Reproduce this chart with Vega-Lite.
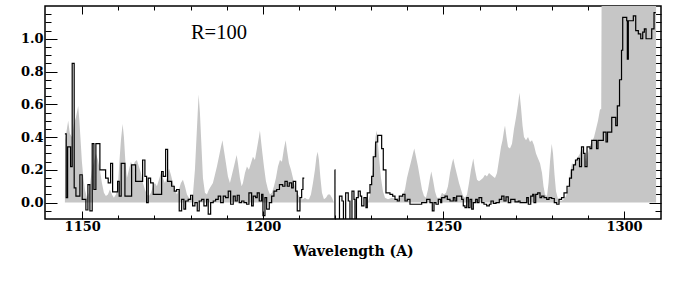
{
  "$schema": "https://vega.github.io/schema/vega-lite/v6.json",
  "width": 616,
  "height": 213,
  "autosize": {"type": "none"},
  "padding": {"left": 45, "top": 6, "right": 31, "bottom": 68},
  "background": "white",
  "config": {
    "view": {"stroke": "black", "strokeWidth": 1.5},
    "axis": {
      "domain": false,
      "grid": false,
      "ticks": true,
      "tickColor": "black",
      "tickWidth": 1,
      "labelFont": "DejaVu Serif",
      "labelFontWeight": "bold",
      "labelFontSize": 13,
      "labelColor": "black",
      "titleFont": "DejaVu Serif",
      "titleFontWeight": "bold",
      "titleFontSize": 14,
      "titleColor": "black"
    }
  },
  "datasets": {
    "grey": [
      {"wl": 1145.21, "flux": 0}, {"wl": 1145.29, "flux": 0.38}, {"wl": 1145.76, "flux": 0.45}, {"wl": 1146.12, "flux": 0.50},
      {"wl": 1146.59, "flux": 0.42}, {"wl": 1147.15, "flux": 0.40}, {"wl": 1147.70, "flux": 0.48}, {"wl": 1148.26, "flux": 0.52},
      {"wl": 1148.89, "flux": 0.59}, {"wl": 1149.22, "flux": 0.50}, {"wl": 1149.64, "flux": 0.35}, {"wl": 1149.92, "flux": 0.25},
      {"wl": 1150.33, "flux": 0.15}, {"wl": 1150.75, "flux": 0.08}, {"wl": 1151.30, "flux": 0.03}, {"wl": 1151.86, "flux": 0.06},
      {"wl": 1152.27, "flux": 0.13}, {"wl": 1152.69, "flux": 0.20}, {"wl": 1153.24, "flux": 0.25}, {"wl": 1153.79, "flux": 0.30},
      {"wl": 1154.35, "flux": 0.26}, {"wl": 1154.90, "flux": 0.20}, {"wl": 1155.46, "flux": 0.12}, {"wl": 1156.01, "flux": 0.06},
      {"wl": 1156.56, "flux": 0.04}, {"wl": 1157.12, "flux": 0.05}, {"wl": 1157.67, "flux": 0.08}, {"wl": 1158.22, "flux": 0.05},
      {"wl": 1158.78, "flux": 0.03}, {"wl": 1159.33, "flux": 0.05}, {"wl": 1159.89, "flux": 0.10}, {"wl": 1160.30, "flux": 0.25},
      {"wl": 1160.72, "flux": 0.38}, {"wl": 1161.19, "flux": 0.48}, {"wl": 1161.55, "flux": 0.40}, {"wl": 1161.96, "flux": 0.25},
      {"wl": 1162.38, "flux": 0.15}, {"wl": 1162.93, "flux": 0.20}, {"wl": 1163.49, "flux": 0.25}, {"wl": 1164.04, "flux": 0.22},
      {"wl": 1164.59, "flux": 0.25}, {"wl": 1165.15, "flux": 0.26}, {"wl": 1165.70, "flux": 0.22}, {"wl": 1166.26, "flux": 0.18},
      {"wl": 1166.81, "flux": 0.12}, {"wl": 1167.36, "flux": 0.08}, {"wl": 1167.92, "flux": 0.05}, {"wl": 1168.47, "flux": 0.04},
      {"wl": 1169.03, "flux": 0.06}, {"wl": 1169.58, "flux": 0.10}, {"wl": 1170.13, "flux": 0.12}, {"wl": 1170.69, "flux": 0.10},
      {"wl": 1171.24, "flux": 0.14}, {"wl": 1171.79, "flux": 0.18}, {"wl": 1172.35, "flux": 0.15}, {"wl": 1172.90, "flux": 0.12},
      {"wl": 1173.46, "flux": 0.15}, {"wl": 1174.01, "flux": 0.21}, {"wl": 1174.56, "flux": 0.17}, {"wl": 1175.12, "flux": 0.12},
      {"wl": 1175.67, "flux": 0.08}, {"wl": 1176.23, "flux": 0.05}, {"wl": 1176.78, "flux": 0.08}, {"wl": 1177.33, "flux": 0.12},
      {"wl": 1177.89, "flux": 0.14}, {"wl": 1178.44, "flux": 0.10}, {"wl": 1179.00, "flux": 0.05}, {"wl": 1179.55, "flux": 0.03},
      {"wl": 1180.10, "flux": 0.02}, {"wl": 1180.66, "flux": 0.05}, {"wl": 1181.21, "flux": 0.20}, {"wl": 1181.76, "flux": 0.45},
      {"wl": 1182.23, "flux": 0.66}, {"wl": 1182.59, "flux": 0.55}, {"wl": 1183.01, "flux": 0.35}, {"wl": 1183.43, "flux": 0.15},
      {"wl": 1183.98, "flux": 0.06}, {"wl": 1184.53, "flux": 0.05}, {"wl": 1185.09, "flux": 0.08}, {"wl": 1185.64, "flux": 0.10},
      {"wl": 1186.19, "flux": 0.12}, {"wl": 1186.75, "flux": 0.17}, {"wl": 1187.30, "flux": 0.22}, {"wl": 1187.86, "flux": 0.28},
      {"wl": 1188.41, "flux": 0.34}, {"wl": 1188.83, "flux": 0.38}, {"wl": 1189.24, "flux": 0.32}, {"wl": 1189.80, "flux": 0.24},
      {"wl": 1190.35, "flux": 0.16}, {"wl": 1190.90, "flux": 0.12}, {"wl": 1191.46, "flux": 0.17}, {"wl": 1192.01, "flux": 0.22},
      {"wl": 1192.76, "flux": 0.29}, {"wl": 1193.12, "flux": 0.24}, {"wl": 1193.67, "flux": 0.15}, {"wl": 1194.14, "flux": 0.10},
      {"wl": 1194.50, "flux": 0.12}, {"wl": 1195.06, "flux": 0.18}, {"wl": 1195.61, "flux": 0.22}, {"wl": 1196.16, "flux": 0.20},
      {"wl": 1196.72, "flux": 0.24}, {"wl": 1197.27, "flux": 0.28}, {"wl": 1197.83, "flux": 0.26}, {"wl": 1198.38, "flux": 0.33},
      {"wl": 1198.93, "flux": 0.40}, {"wl": 1199.21, "flux": 0.44}, {"wl": 1199.49, "flux": 0.38}, {"wl": 1199.90, "flux": 0.30},
      {"wl": 1200.32, "flux": 0.22}, {"wl": 1200.87, "flux": 0.13}, {"wl": 1201.43, "flux": 0.08}, {"wl": 1201.98, "flux": 0.05},
      {"wl": 1202.53, "flux": 0.06}, {"wl": 1203.09, "flux": 0.10}, {"wl": 1203.64, "flux": 0.15}, {"wl": 1204.20, "flux": 0.22},
      {"wl": 1204.75, "flux": 0.26}, {"wl": 1205.30, "flux": 0.25}, {"wl": 1205.86, "flux": 0.33}, {"wl": 1206.33, "flux": 0.38},
      {"wl": 1206.69, "flux": 0.32}, {"wl": 1207.24, "flux": 0.24}, {"wl": 1207.80, "flux": 0.20}, {"wl": 1208.35, "flux": 0.15},
      {"wl": 1208.90, "flux": 0.10}, {"wl": 1209.46, "flux": 0.06}, {"wl": 1210.01, "flux": 0.04}, {"wl": 1210.56, "flux": 0.02},
      {"wl": 1211.12, "flux": 0.02}, {"wl": 1211.67, "flux": 0.03}, {"wl": 1212.23, "flux": 0.02}, {"wl": 1212.78, "flux": 0.02},
      {"wl": 1213.33, "flux": 0.05}, {"wl": 1213.89, "flux": 0.12}, {"wl": 1214.44, "flux": 0.20}, {"wl": 1214.86, "flux": 0.28},
      {"wl": 1215.19, "flux": 0.31}, {"wl": 1215.55, "flux": 0.26}, {"wl": 1215.96, "flux": 0.15}, {"wl": 1216.38, "flux": 0.06},
      {"wl": 1216.93, "flux": 0.02}, {"wl": 1217.49, "flux": 0.03}, {"wl": 1218.04, "flux": 0.05}, {"wl": 1218.60, "flux": 0.05},
      {"wl": 1219.15, "flux": 0.03}, {"wl": 1219.70, "flux": 0.0}, {"wl": 1229.12, "flux": 0.0}, {"wl": 1229.67, "flux": 0.05},
      {"wl": 1230.23, "flux": 0.15}, {"wl": 1230.78, "flux": 0.30}, {"wl": 1231.20, "flux": 0.40}, {"wl": 1231.53, "flux": 0.44},
      {"wl": 1231.89, "flux": 0.36}, {"wl": 1232.30, "flux": 0.25}, {"wl": 1232.72, "flux": 0.15}, {"wl": 1233.27, "flux": 0.07},
      {"wl": 1233.83, "flux": 0.03}, {"wl": 1234.66, "flux": 0.02}, {"wl": 1235.77, "flux": 0.03}, {"wl": 1236.87, "flux": 0.02},
      {"wl": 1237.98, "flux": 0.03}, {"wl": 1238.81, "flux": 0.05}, {"wl": 1239.37, "flux": 0.08}, {"wl": 1239.92, "flux": 0.15},
      {"wl": 1240.47, "flux": 0.20}, {"wl": 1241.03, "flux": 0.25}, {"wl": 1241.58, "flux": 0.30}, {"wl": 1241.94, "flux": 0.33},
      {"wl": 1242.41, "flux": 0.28}, {"wl": 1242.97, "flux": 0.22}, {"wl": 1243.52, "flux": 0.15}, {"wl": 1244.07, "flux": 0.08},
      {"wl": 1244.63, "flux": 0.04}, {"wl": 1245.18, "flux": 0.03}, {"wl": 1245.74, "flux": 0.08}, {"wl": 1246.29, "flux": 0.15},
      {"wl": 1246.65, "flux": 0.19}, {"wl": 1247.12, "flux": 0.14}, {"wl": 1247.67, "flux": 0.07}, {"wl": 1248.23, "flux": 0.03},
      {"wl": 1249.06, "flux": 0.03}, {"wl": 1249.61, "flux": 0.06}, {"wl": 1250.17, "flux": 0.05}, {"wl": 1250.72, "flux": 0.06},
      {"wl": 1251.27, "flux": 0.10}, {"wl": 1251.83, "flux": 0.18}, {"wl": 1252.38, "flux": 0.24}, {"wl": 1252.74, "flux": 0.27},
      {"wl": 1253.21, "flux": 0.22}, {"wl": 1253.77, "flux": 0.17}, {"wl": 1254.32, "flux": 0.12}, {"wl": 1254.87, "flux": 0.08},
      {"wl": 1255.43, "flux": 0.04}, {"wl": 1255.98, "flux": 0.03}, {"wl": 1256.54, "flux": 0.05}, {"wl": 1257.09, "flux": 0.12},
      {"wl": 1257.64, "flux": 0.20}, {"wl": 1258.28, "flux": 0.27}, {"wl": 1258.75, "flux": 0.20}, {"wl": 1259.31, "flux": 0.14},
      {"wl": 1259.86, "flux": 0.13}, {"wl": 1260.41, "flux": 0.14}, {"wl": 1260.97, "flux": 0.15}, {"wl": 1261.52, "flux": 0.17},
      {"wl": 1262.07, "flux": 0.16}, {"wl": 1262.63, "flux": 0.18}, {"wl": 1263.18, "flux": 0.17}, {"wl": 1263.74, "flux": 0.16},
      {"wl": 1264.29, "flux": 0.15}, {"wl": 1264.84, "flux": 0.18}, {"wl": 1265.40, "flux": 0.26}, {"wl": 1265.95, "flux": 0.34},
      {"wl": 1266.37, "flux": 0.38}, {"wl": 1266.78, "flux": 0.44}, {"wl": 1267.06, "flux": 0.47}, {"wl": 1267.47, "flux": 0.40},
      {"wl": 1267.89, "flux": 0.34}, {"wl": 1268.44, "flux": 0.33}, {"wl": 1269.00, "flux": 0.36}, {"wl": 1269.55, "flux": 0.45},
      {"wl": 1270.11, "flux": 0.52}, {"wl": 1270.66, "flux": 0.60}, {"wl": 1271.07, "flux": 0.67}, {"wl": 1271.49, "flux": 0.58},
      {"wl": 1271.91, "flux": 0.47}, {"wl": 1272.32, "flux": 0.40}, {"wl": 1272.87, "flux": 0.38}, {"wl": 1273.43, "flux": 0.40},
      {"wl": 1273.98, "flux": 0.37}, {"wl": 1274.54, "flux": 0.38}, {"wl": 1275.09, "flux": 0.35}, {"wl": 1275.64, "flux": 0.30},
      {"wl": 1276.20, "flux": 0.27}, {"wl": 1276.75, "flux": 0.24}, {"wl": 1277.31, "flux": 0.18}, {"wl": 1277.72, "flux": 0.10},
      {"wl": 1278.14, "flux": 0.05}, {"wl": 1278.69, "flux": 0.04}, {"wl": 1279.11, "flux": 0.12}, {"wl": 1279.52, "flux": 0.25},
      {"wl": 1279.99, "flux": 0.36}, {"wl": 1280.35, "flux": 0.30}, {"wl": 1280.77, "flux": 0.17}, {"wl": 1281.18, "flux": 0.07},
      {"wl": 1281.74, "flux": 0.02}, {"wl": 1282.57, "flux": 0.01}, {"wl": 1283.40, "flux": 0.02}, {"wl": 1283.95, "flux": 0.04},
      {"wl": 1284.51, "flux": 0.08}, {"wl": 1285.06, "flux": 0.18}, {"wl": 1285.61, "flux": 0.24}, {"wl": 1286.17, "flux": 0.23},
      {"wl": 1286.72, "flux": 0.26}, {"wl": 1287.27, "flux": 0.28}, {"wl": 1287.83, "flux": 0.30}, {"wl": 1288.38, "flux": 0.34},
      {"wl": 1288.94, "flux": 0.30}, {"wl": 1289.49, "flux": 0.25}, {"wl": 1290.04, "flux": 0.30}, {"wl": 1290.60, "flux": 0.35},
      {"wl": 1291.15, "flux": 0.37}, {"wl": 1291.71, "flux": 0.40}, {"wl": 1292.26, "flux": 0.45}, {"wl": 1292.81, "flux": 0.50},
      {"wl": 1293.37, "flux": 0.57}, {"wl": 1293.70, "flux": 0.57}, {"wl": 1293.84, "flux": 1.5}, {"wl": 1308.88, "flux": 1.5},
      {"wl": 1308.90, "flux": 0}
    ],
    "black": [
      {"wl": 1145.21, "flux": 0.42, "seg": "a"}, {"wl": 1145.57, "flux": 0.03, "seg": "a"}, {"wl": 1145.96, "flux": 0.34, "seg": "a"},
      {"wl": 1146.79, "flux": 0.22, "seg": "a"}, {"wl": 1147.23, "flux": 0.85, "seg": "a"}, {"wl": 1147.78, "flux": 0.09, "seg": "a"},
      {"wl": 1148.26, "flux": 0.04, "seg": "a"}, {"wl": 1149.36, "flux": 0.17, "seg": "a"}, {"wl": 1150.00, "flux": 0.02, "seg": "a"},
      {"wl": 1151.02, "flux": -0.045, "seg": "a"}, {"wl": 1151.58, "flux": 0.11, "seg": "a"}, {"wl": 1152.13, "flux": -0.05, "seg": "a"},
      {"wl": 1152.77, "flux": 0.36, "seg": "a"}, {"wl": 1153.24, "flux": 0.08, "seg": "a"}, {"wl": 1153.79, "flux": 0.36, "seg": "a"},
      {"wl": 1154.90, "flux": 0.20, "seg": "a"}, {"wl": 1156.48, "flux": 0.15, "seg": "a"}, {"wl": 1157.20, "flux": 0.12, "seg": "a"},
      {"wl": 1157.87, "flux": 0.24, "seg": "a"}, {"wl": 1158.42, "flux": 0.065, "seg": "a"}, {"wl": 1159.80, "flux": 0.13, "seg": "a"},
      {"wl": 1160.25, "flux": 0.04, "seg": "a"}, {"wl": 1160.80, "flux": 0.24, "seg": "a"}, {"wl": 1161.83, "flux": 0.04, "seg": "a"},
      {"wl": 1163.68, "flux": 0.23, "seg": "a"}, {"wl": 1164.79, "flux": 0.13, "seg": "a"}, {"wl": 1166.73, "flux": 0.26, "seg": "a"},
      {"wl": 1167.36, "flux": 0.16, "seg": "a"}, {"wl": 1167.83, "flux": 0.0, "seg": "a"}, {"wl": 1168.28, "flux": 0.15, "seg": "a"},
      {"wl": 1168.94, "flux": 0.12, "seg": "a"}, {"wl": 1169.66, "flux": 0.05, "seg": "a"}, {"wl": 1171.99, "flux": 0.19, "seg": "a"},
      {"wl": 1172.43, "flux": 0.16, "seg": "a"}, {"wl": 1173.10, "flux": 0.325, "seg": "a"}, {"wl": 1173.65, "flux": 0.13, "seg": "a"},
      {"wl": 1174.76, "flux": 0.10, "seg": "a"}, {"wl": 1175.48, "flux": 0.07, "seg": "a"}, {"wl": 1176.14, "flux": 0.08, "seg": "a"},
      {"wl": 1176.86, "flux": -0.05, "seg": "a"}, {"wl": 1177.53, "flux": 0.02, "seg": "a"}, {"wl": 1178.16, "flux": -0.04, "seg": "a"},
      {"wl": 1178.63, "flux": 0.01, "seg": "a"}, {"wl": 1179.35, "flux": 0.02, "seg": "a"}, {"wl": 1180.02, "flux": 0.045, "seg": "a"},
      {"wl": 1180.57, "flux": -0.02, "seg": "a"}, {"wl": 1181.21, "flux": 0.0, "seg": "a"}, {"wl": 1181.85, "flux": -0.05, "seg": "a"},
      {"wl": 1182.40, "flux": 0.01, "seg": "a"}, {"wl": 1183.07, "flux": 0.02, "seg": "a"}, {"wl": 1183.70, "flux": -0.02, "seg": "a"},
      {"wl": 1184.45, "flux": 0.02, "seg": "a"}, {"wl": 1184.89, "flux": -0.07, "seg": "a"}, {"wl": 1185.56, "flux": 0.0, "seg": "a"},
      {"wl": 1186.28, "flux": 0.01, "seg": "a"}, {"wl": 1186.94, "flux": 0.02, "seg": "a"}, {"wl": 1187.66, "flux": 0.04, "seg": "a"},
      {"wl": 1188.33, "flux": 0.0, "seg": "a"}, {"wl": 1189.05, "flux": 0.04, "seg": "a"}, {"wl": 1189.71, "flux": 0.03, "seg": "a"},
      {"wl": 1190.43, "flux": 0.07, "seg": "a"}, {"wl": 1191.10, "flux": -0.01, "seg": "a"}, {"wl": 1191.82, "flux": 0.04, "seg": "a"},
      {"wl": 1192.37, "flux": 0.01, "seg": "a"}, {"wl": 1192.92, "flux": 0.045, "seg": "a"}, {"wl": 1193.48, "flux": 0.0, "seg": "a"},
      {"wl": 1194.14, "flux": 0.01, "seg": "a"}, {"wl": 1194.78, "flux": 0.0, "seg": "a"}, {"wl": 1195.53, "flux": -0.01, "seg": "a"},
      {"wl": 1196.16, "flux": 0.06, "seg": "a"}, {"wl": 1196.91, "flux": -0.02, "seg": "a"}, {"wl": 1197.36, "flux": 0.04, "seg": "a"},
      {"wl": 1198.02, "flux": 0.03, "seg": "a"}, {"wl": 1198.46, "flux": 0.06, "seg": "a"}, {"wl": 1199.02, "flux": 0.01, "seg": "a"},
      {"wl": 1199.68, "flux": 0.05, "seg": "a"}, {"wl": 1200.04, "flux": -0.08, "seg": "a"}, {"wl": 1200.60, "flux": 0.03, "seg": "a"},
      {"wl": 1201.07, "flux": -0.04, "seg": "a"}, {"wl": 1201.79, "flux": 0.0, "seg": "a"}, {"wl": 1202.45, "flux": 0.04, "seg": "a"},
      {"wl": 1203.09, "flux": 0.07, "seg": "a"}, {"wl": 1203.84, "flux": 0.08, "seg": "a"}, {"wl": 1204.61, "flux": 0.11, "seg": "a"},
      {"wl": 1205.50, "flux": 0.10, "seg": "a"}, {"wl": 1206.13, "flux": 0.13, "seg": "a"}, {"wl": 1206.77, "flux": 0.10, "seg": "a"},
      {"wl": 1207.33, "flux": 0.12, "seg": "a"}, {"wl": 1207.99, "flux": 0.09, "seg": "a"}, {"wl": 1208.43, "flux": 0.13, "seg": "a"},
      {"wl": 1209.10, "flux": 0.07, "seg": "a"}, {"wl": 1209.54, "flux": -0.05, "seg": "a"}, {"wl": 1210.29, "flux": 0.03, "seg": "a"},
      {"wl": 1210.76, "flux": 0.08, "seg": "a"}, {"wl": 1211.12, "flux": 0.15, "seg": "a"}, {"wl": 1211.48, "flux": 0.15, "seg": "a"},
      {"wl": 1219.93, "flux": 0.20, "seg": "b"}, {"wl": 1219.98, "flux": -0.3, "seg": "b"}, {"wl": 1221.23, "flux": 0.04, "seg": "b"},
      {"wl": 1221.92, "flux": 0.01, "seg": "b"}, {"wl": 1222.33, "flux": -0.3, "seg": "b"}, {"wl": 1222.94, "flux": 0.06, "seg": "b"},
      {"wl": 1223.66, "flux": 0.01, "seg": "b"}, {"wl": 1224.13, "flux": -0.3, "seg": "b"}, {"wl": 1224.69, "flux": 0.07, "seg": "b"},
      {"wl": 1225.24, "flux": 0.02, "seg": "b"}, {"wl": 1225.52, "flux": -0.3, "seg": "b"}, {"wl": 1225.93, "flux": 0.03, "seg": "b"},
      {"wl": 1226.43, "flux": 0.07, "seg": "b"}, {"wl": 1226.99, "flux": 0.04, "seg": "b"}, {"wl": 1227.37, "flux": -0.02, "seg": "b"},
      {"wl": 1228.01, "flux": 0.03, "seg": "b"}, {"wl": 1228.57, "flux": -0.03, "seg": "b"}, {"wl": 1228.93, "flux": 0.06, "seg": "b"},
      {"wl": 1229.67, "flux": 0.11, "seg": "b"}, {"wl": 1230.14, "flux": 0.16, "seg": "b"}, {"wl": 1230.59, "flux": 0.28, "seg": "b"},
      {"wl": 1231.25, "flux": 0.37, "seg": "b"}, {"wl": 1231.81, "flux": 0.41, "seg": "b"}, {"wl": 1232.91, "flux": 0.33, "seg": "b"},
      {"wl": 1233.36, "flux": 0.20, "seg": "b"}, {"wl": 1234.10, "flux": 0.06, "seg": "b"}, {"wl": 1235.21, "flux": 0.05, "seg": "b"},
      {"wl": 1235.96, "flux": 0.04, "seg": "b"}, {"wl": 1236.60, "flux": 0.02, "seg": "b"}, {"wl": 1237.23, "flux": 0.01, "seg": "b"},
      {"wl": 1237.79, "flux": 0.04, "seg": "b"}, {"wl": 1238.73, "flux": 0.05, "seg": "b"}, {"wl": 1239.37, "flux": 0.01, "seg": "b"},
      {"wl": 1240.00, "flux": 0.02, "seg": "b"}, {"wl": 1240.75, "flux": -0.01, "seg": "b"}, {"wl": 1243.99, "flux": 0.0, "seg": "b"},
      {"wl": 1245.37, "flux": 0.02, "seg": "b"}, {"wl": 1246.29, "flux": 0.0, "seg": "b"}, {"wl": 1246.93, "flux": -0.05, "seg": "b"},
      {"wl": 1247.40, "flux": 0.0, "seg": "b"}, {"wl": 1247.95, "flux": -0.01, "seg": "b"}, {"wl": 1248.59, "flux": 0.02, "seg": "b"},
      {"wl": 1249.25, "flux": 0.0, "seg": "b"}, {"wl": 1249.53, "flux": 0.03, "seg": "b"}, {"wl": 1250.44, "flux": 0.04, "seg": "b"},
      {"wl": 1251.08, "flux": 0.02, "seg": "b"}, {"wl": 1251.83, "flux": 0.01, "seg": "b"}, {"wl": 1252.74, "flux": 0.03, "seg": "b"},
      {"wl": 1253.21, "flux": 0.01, "seg": "b"}, {"wl": 1253.68, "flux": 0.04, "seg": "b"}, {"wl": 1255.07, "flux": 0.02, "seg": "b"},
      {"wl": 1255.51, "flux": -0.02, "seg": "b"}, {"wl": 1255.98, "flux": -0.03, "seg": "b"}, {"wl": 1256.45, "flux": 0.03, "seg": "b"},
      {"wl": 1256.90, "flux": -0.03, "seg": "b"}, {"wl": 1257.37, "flux": 0.02, "seg": "b"}, {"wl": 1257.84, "flux": -0.04, "seg": "b"},
      {"wl": 1258.28, "flux": 0.0, "seg": "b"}, {"wl": 1258.94, "flux": 0.02, "seg": "b"}, {"wl": 1259.39, "flux": 0.0, "seg": "b"},
      {"wl": 1259.86, "flux": 0.03, "seg": "b"}, {"wl": 1260.61, "flux": 0.0, "seg": "b"}, {"wl": 1261.24, "flux": -0.01, "seg": "b"},
      {"wl": 1261.99, "flux": -0.02, "seg": "b"}, {"wl": 1262.71, "flux": -0.01, "seg": "b"}, {"wl": 1263.18, "flux": 0.01, "seg": "b"},
      {"wl": 1263.82, "flux": -0.005, "seg": "b"}, {"wl": 1264.57, "flux": 0.0, "seg": "b"}, {"wl": 1265.48, "flux": 0.02, "seg": "b"},
      {"wl": 1266.14, "flux": 0.04, "seg": "b"}, {"wl": 1266.78, "flux": 0.01, "seg": "b"}, {"wl": 1267.34, "flux": 0.035, "seg": "b"},
      {"wl": 1267.97, "flux": 0.0, "seg": "b"}, {"wl": 1268.64, "flux": 0.02, "seg": "b"}, {"wl": 1269.83, "flux": 0.005, "seg": "b"},
      {"wl": 1270.74, "flux": 0.01, "seg": "b"}, {"wl": 1271.21, "flux": 0.0, "seg": "b"}, {"wl": 1273.07, "flux": 0.03, "seg": "b"},
      {"wl": 1273.51, "flux": -0.01, "seg": "b"}, {"wl": 1274.18, "flux": 0.04, "seg": "b"}, {"wl": 1274.73, "flux": 0.05, "seg": "b"},
      {"wl": 1275.09, "flux": 0.0, "seg": "b"}, {"wl": 1275.56, "flux": 0.05, "seg": "b"}, {"wl": 1276.11, "flux": 0.06, "seg": "b"},
      {"wl": 1276.75, "flux": 0.03, "seg": "b"}, {"wl": 1277.22, "flux": 0.04, "seg": "b"}, {"wl": 1277.86, "flux": 0.03, "seg": "b"},
      {"wl": 1278.61, "flux": 0.02, "seg": "b"}, {"wl": 1279.24, "flux": 0.03, "seg": "b"}, {"wl": 1279.99, "flux": 0.025, "seg": "b"},
      {"wl": 1280.71, "flux": 0.0, "seg": "b"}, {"wl": 1281.38, "flux": -0.01, "seg": "b"}, {"wl": 1282.01, "flux": 0.02, "seg": "b"},
      {"wl": 1282.71, "flux": 0.03, "seg": "b"}, {"wl": 1283.40, "flux": 0.06, "seg": "b"}, {"wl": 1284.23, "flux": 0.10, "seg": "b"},
      {"wl": 1284.92, "flux": 0.15, "seg": "b"}, {"wl": 1285.47, "flux": 0.20, "seg": "b"}, {"wl": 1286.03, "flux": 0.23, "seg": "b"},
      {"wl": 1286.58, "flux": 0.26, "seg": "b"}, {"wl": 1287.14, "flux": 0.27, "seg": "b"}, {"wl": 1287.69, "flux": 0.22, "seg": "b"},
      {"wl": 1288.24, "flux": 0.34, "seg": "b"}, {"wl": 1288.80, "flux": 0.30, "seg": "b"}, {"wl": 1289.21, "flux": 0.22, "seg": "b"},
      {"wl": 1289.77, "flux": 0.34, "seg": "b"}, {"wl": 1290.60, "flux": 0.33, "seg": "b"}, {"wl": 1291.07, "flux": 0.38, "seg": "b"},
      {"wl": 1291.98, "flux": 0.38, "seg": "b"}, {"wl": 1292.40, "flux": 0.33, "seg": "b"}, {"wl": 1292.81, "flux": 0.38, "seg": "b"},
      {"wl": 1293.84, "flux": 0.38, "seg": "b"}, {"wl": 1294.28, "flux": 0.43, "seg": "b"}, {"wl": 1295.03, "flux": 0.37, "seg": "b"},
      {"wl": 1295.44, "flux": 0.43, "seg": "b"}, {"wl": 1296.61, "flux": 0.52, "seg": "b"}, {"wl": 1297.72, "flux": 0.47, "seg": "b"},
      {"wl": 1298.16, "flux": 0.59, "seg": "b"}, {"wl": 1298.77, "flux": 0.75, "seg": "b"}, {"wl": 1299.32, "flux": 0.93, "seg": "b"},
      {"wl": 1299.65, "flux": 1.13, "seg": "b"}, {"wl": 1300.76, "flux": 1.11, "seg": "b"}, {"wl": 1300.93, "flux": 0.875, "seg": "b"},
      {"wl": 1301.20, "flux": 1.11, "seg": "b"}, {"wl": 1302.59, "flux": 1.14, "seg": "b"}, {"wl": 1303.25, "flux": 1.05, "seg": "b"},
      {"wl": 1303.97, "flux": 1.03, "seg": "b"}, {"wl": 1304.64, "flux": 1.0, "seg": "b"}, {"wl": 1305.19, "flux": 1.04, "seg": "b"},
      {"wl": 1305.64, "flux": 1.06, "seg": "b"}, {"wl": 1306.11, "flux": 1.0, "seg": "b"}, {"wl": 1307.68, "flux": 1.06, "seg": "b"},
      {"wl": 1308.32, "flux": 1.16, "seg": "b"}, {"wl": 1308.79, "flux": 1.16, "seg": "b"}
    ],
    "label": [{"wl": 1180.1, "flux": 1.0, "text": "R=100"}]
  },
  "resolve": {"axis": {"x": "independent", "y": "independent"}},
  "layer": [
    {
      "data": {"name": "grey"},
      "mark": {"type": "area", "color": "#c6c6c6", "clip": true},
      "encoding": {
        "x": {
          "field": "wl", "type": "quantitative",
          "scale": {"domain": [1139.7, 1310.25], "nice": false, "zero": false},
          "axis": {
            "orient": "bottom",
            "title": "Wavelength (A)",
            "values": [1150, 1160, 1170, 1180, 1190, 1200, 1210, 1220, 1230, 1240, 1250, 1260, 1270, 1280, 1290, 1300],
            "tickSize": {"condition": {"test": "datum.value % 50 === 0", "value": -8}, "value": -4},
            "labelExpr": "datum.value % 50 === 0 ? format(datum.value, 'd') : ''",
            "labelPadding": 9,
            "titlePadding": 11
          }
        },
        "y": {
          "field": "flux", "type": "quantitative",
          "scale": {"domain": [-0.1, 1.2], "nice": false, "zero": false},
          "axis": {
            "orient": "left",
            "title": null,
            "values": [-0.05, 0, 0.05, 0.1, 0.15, 0.2, 0.25, 0.3, 0.35, 0.4, 0.45, 0.5, 0.55, 0.6, 0.65, 0.7, 0.75, 0.8, 0.85, 0.9, 0.95, 1.0, 1.05, 1.1, 1.15],
            "tickSize": {"condition": {"test": "abs(datum.value*5 - round(datum.value*5)) < 0.001", "value": -12}, "value": -6},
            "labelExpr": "abs(datum.value*5 - round(datum.value*5)) < 0.001 ? format(datum.value, '.1f') : ''",
            "labelPadding": 14
          }
        },
        "y2": {"datum": 0}
      }
    },
    {
      "data": {"name": "black"},
      "mark": {"type": "line", "color": "black", "strokeWidth": 1.2, "interpolate": "step-after", "clip": true},
      "encoding": {
        "x": {
          "field": "wl", "type": "quantitative",
          "axis": {
            "orient": "top",
            "title": null,
            "labels": false,
            "values": [1150, 1160, 1170, 1180, 1190, 1200, 1210, 1220, 1230, 1240, 1250, 1260, 1270, 1280, 1290, 1300],
            "tickSize": {"condition": {"test": "datum.value % 50 === 0", "value": -8}, "value": -4}
          }
        },
        "y": {
          "field": "flux", "type": "quantitative",
          "axis": {
            "orient": "right",
            "title": null,
            "labels": false,
            "values": [-0.05, 0, 0.05, 0.1, 0.15, 0.2, 0.25, 0.3, 0.35, 0.4, 0.45, 0.5, 0.55, 0.6, 0.65, 0.7, 0.75, 0.8, 0.85, 0.9, 0.95, 1.0, 1.05, 1.1, 1.15],
            "tickSize": {"condition": {"test": "abs(datum.value*5 - round(datum.value*5)) < 0.001", "value": -12}, "value": -6}
          }
        },
        "detail": {"field": "seg", "type": "nominal"}
      }
    },
    {
      "data": {"name": "label"},
      "mark": {"type": "text", "align": "left", "baseline": "alphabetic", "font": "Liberation Serif", "fontSize": 20.5, "color": "black"},
      "encoding": {
        "x": {"field": "wl", "type": "quantitative", "axis": null},
        "y": {"field": "flux", "type": "quantitative", "axis": null},
        "text": {"field": "text"}
      }
    }
  ]
}
